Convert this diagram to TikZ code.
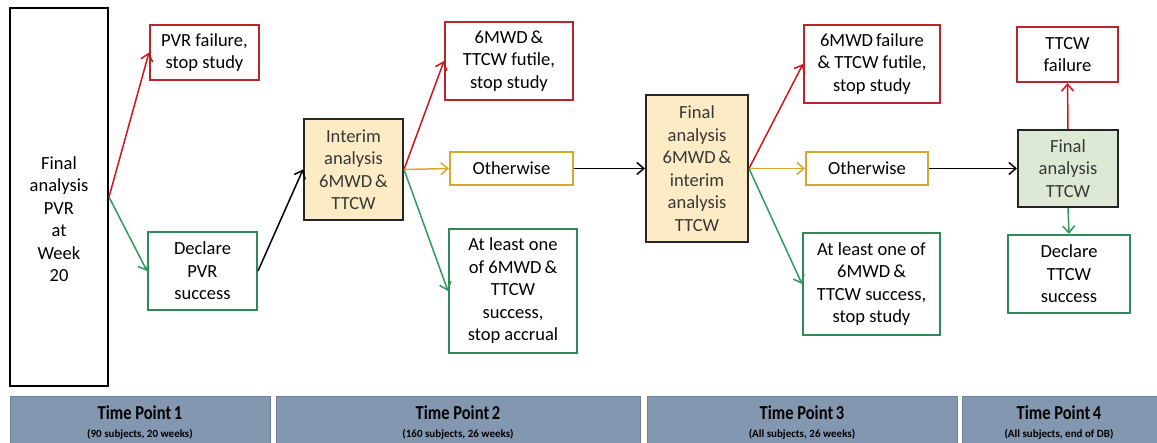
\documentclass[tikz,border=0pt]{standalone}
\usepackage{fontspec}
\setmainfont{Carlito}
\usetikzlibrary{arrows,arrows.meta}
\usetikzlibrary{positioning}
\definecolor{failred}{HTML}{B8252B}
\definecolor{arrowred}{HTML}{D0161C}
\definecolor{okgreen}{HTML}{2E8B57}
\definecolor{arrowgreen}{HTML}{2F9A5C}
\definecolor{gold}{HTML}{D6A92C}
\definecolor{paleyellow}{HTML}{FCEBC4}
\definecolor{palegreen}{HTML}{DCEAD5}
\definecolor{barblue}{HTML}{8497B0}
\definecolor{bardark}{HTML}{6E7F96}
\newcommand{\tptitle}[1]{\scalebox{1}[1.2]{#1}}

\begin{document}
\begin{tikzpicture}[x=1pt,y=-1pt,->,>={Straight Barb[length=7pt,width=12pt]},
    box node/.style={rectangle,draw,line width=2pt,inner sep=0pt,align=center,font=\fontsize{18.5}{22.5}\selectfont},
    red node/.style={box node,draw=failred},
    green node/.style={box node,draw=okgreen},
    gold node/.style={box node,draw=gold},
    step node/.style={box node,draw=black!85,fill=paleyellow,text=black!78},
    time node/.style={rectangle,draw=bardark,fill=barblue,line width=1pt,inner sep=0pt,align=center},
    title node/.style={font=\fontsize{16.5}{18}\selectfont\bfseries},
    sub node/.style={font=\fontsize{11}{12}\selectfont\bfseries}]
  \useasboundingbox (0,0) rectangle (1157,443);
  % time line at the bottom
  \begin{scope}[-]
    \node[time node,minimum width=260,minimum height=48] (tp1) at (140,421) {};
    \node[time node,minimum width=364,minimum height=48] (tp2) at (458,421) {};
    \node[time node,minimum width=310,minimum height=48] (tp3) at (802,421) {};
    \node[time node,minimum width=198,minimum height=48] (tp4) at (1061,421) {};
    \node[title node] (tp1a) at (140,413) {\tptitle{Time Point\,1}};
    \node[sub node] (tp1b) at (140,434) {(90 subjects, 20 weeks)};
    \node[title node] (tp2a) at (458,413) {\tptitle{Time Point\,2}};
    \node[sub node] (tp2b) at (458,434) {(160 subjects, 26 weeks)};
    \node[title node] (tp3a) at (802,413) {\tptitle{Time Point\,3}};
    \node[sub node] (tp3b) at (802,434) {(All subjects, 26 weeks)};
    \node[title node] (tp4a) at (1059,413) {\tptitle{Time Point\,4}};
    \node[sub node] (tp4b) at (1059,434) {(All subjects, end of DB)};
  \end{scope}

  % time point 1
  \node[box node,minimum width=98,minimum height=378] (pvr) at (59,197) {\mbox{}\\[34.5pt]Final\\analysis\\PVR\\at\\Week\\20};
  \node[red node,minimum width=109,minimum height=55] (pvrfail) at (204.5,52.5) {PVR failure,\\stop study};
  \node[green node,minimum width=109,minimum height=78] (pvrok) at (202.5,271) {Declare\\PVR\\success};

  % time point 2
  \node[step node,minimum width=99,minimum height=101] (interim) at (353.5,169.5) {Interim\\analysis\\6MWD\,\&\\TTCW};
  \node[red node,minimum width=128,minimum height=78] (futile) at (509,61) {6MWD\,\&\\TTCW futile,\\stop study};
  \node[gold node,minimum width=123,minimum height=33] (other1) at (511.5,168.5) {Otherwise};
  \node[green node,minimum width=128,minimum height=124] (accrual) at (513,291) {At least one\\of 6MWD\,\&\\TTCW\\success,\\stop accrual};

  % time point 3
  \node[step node,minimum width=102,minimum height=147] (final) at (697,168.5) {Final\\analysis\\6MWD\,\&\\interim\\analysis\\TTCW};
  \node[red node,minimum width=136,minimum height=78] (mwdfail) at (872,64) {6MWD\,failure\\\&\ TTCW futile,\\stop study};
  \node[gold node,minimum width=122,minimum height=33] (other2) at (867,168.5) {Otherwise};
  \node[green node,minimum width=137,minimum height=102] (stopok) at (871.5,284) {At least one of\\6MWD\,\&\\TTCW success,\\stop study};

  % time point 4
  \node[step node,fill=palegreen,minimum width=100,minimum height=77] (ttcw) at (1068,168.5) {Final\\analysis\\TTCW};
  \node[red node,minimum width=101,minimum height=55] (ttcwfail) at (1067.5,54.5) {TTCW\\failure};
  \node[green node,minimum width=122,minimum height=78] (ttcwok) at (1069,274) {Declare\\TTCW\\success};

  % connectors
  \path[line width=1.5pt,arrowred] (pvr.east) edge (pvrfail.west);
  \path[line width=1.5pt,arrowgreen] (pvr.east) edge (pvrok.west);
  \path[line width=1.5pt,black] (pvrok.east) edge (interim.west);
  \path[line width=1.5pt,arrowred] (interim.east) edge (futile.west);
  \path[line width=1.5pt,gold] (interim.east) edge (other1.west);
  \path[line width=1.5pt,arrowgreen] (interim.east) edge (accrual.west);
  \path[line width=1.5pt,black] (other1.east) edge (final.west);
  \path[line width=1.5pt,arrowred] (final.east) edge (mwdfail.west);
  \path[line width=1.5pt,gold] (final.east) edge (other2.west);
  \path[line width=1.5pt,arrowgreen] (final.east) edge (stopok.west);
  \path[line width=1.5pt,black] (other2.east) edge (ttcw.west);
  \path[line width=1.5pt,arrowred] (ttcw.north) edge (ttcwfail.south);
  \path[line width=1.5pt,arrowgreen] (ttcw.south) edge (ttcwok.north);
\end{tikzpicture}
\end{document}
